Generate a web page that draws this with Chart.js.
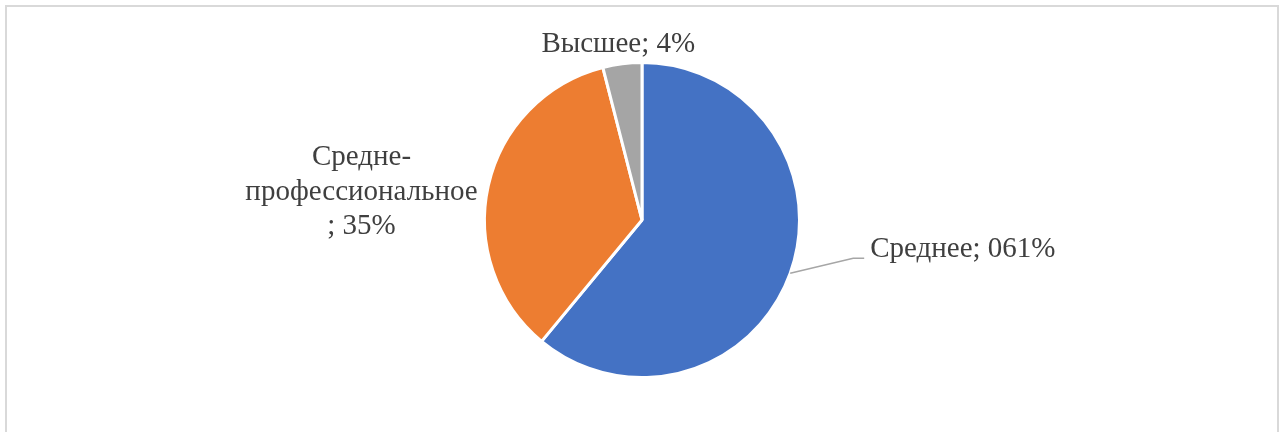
<!DOCTYPE html>
<html>
<head>
<meta charset="utf-8">
<script src="https://cdn.jsdelivr.net/npm/chart.js@4/dist/chart.umd.min.js"></script>
<style>
  html, body { margin: 0; padding: 0; background: #fff; overflow: hidden; }
  #wrap { position: relative; width: 1286px; height: 432px; }
  #frame { position: absolute; left: 5px; top: 5px; width: 1270px; height: 440px;
           border: 2px solid #d9d9d9; border-bottom: none; }
  canvas { position: absolute; left: 0; top: 0; }
</style>
</head>
<body>
<div id="wrap">
  <div id="frame"></div>
  <canvas id="c" width="1286" height="432"></canvas>
</div>
<script>
const categories = ['Среднее', 'Средне-профессиональное', 'Высшее'];
const values = [61, 35, 4];
const labelLines = [
  ['Среднее; 061%'],
  ['Средне-', 'профессиональное', '; 35%'],
  ['Высшее; 4%']
];
const colors = ['#4472C4', '#ED7D31', '#A5A5A5'];

const labelPlugin = {
  id: 'pieLabels',
  afterDatasetsDraw(chart) {
    const ctx = chart.ctx;
    const meta = chart.getDatasetMeta(0);
    ctx.save();
    ctx.font = '29px "Liberation Serif", "Times New Roman", serif';
    ctx.fillStyle = '#3f3f3f';
    ctx.textBaseline = 'middle';
    meta.data.forEach((arc, i) => {
      const p = arc.getProps(['x', 'y', 'startAngle', 'endAngle', 'outerRadius'], true);
      const mid = (p.startAngle + p.endAngle) / 2;
      const ex = p.x + Math.cos(mid) * p.outerRadius;
      const ey = p.y + Math.sin(mid) * p.outerRadius;
      const lines = labelLines[i];
      if (i === 0) {
        // leader line
        const bx = ex + 63, by = ey - 15;
        ctx.strokeStyle = '#A6A6A6';
        ctx.lineWidth = 1.5;
        ctx.beginPath();
        ctx.moveTo(ex, ey);
        ctx.lineTo(bx, by);
        ctx.lineTo(bx + 11, by);
        ctx.stroke();
        ctx.textAlign = 'left';
        ctx.fillText(lines[0], bx + 17, by - 9);
      } else if (i === 1) {
        ctx.textAlign = 'center';
        const cx = p.x - p.outerRadius - 123;
        const cy = p.y - 28;
        lines.forEach((t, k) => ctx.fillText(t, cx, cy + (k - 1) * 34.5));
      } else {
        ctx.textAlign = 'center';
        ctx.fillText(lines[0], ex - 4, ey - 19);
      }
    });
    ctx.restore();
  }
};

new Chart(document.getElementById('c'), {
  type: 'pie',
  data: {
    labels: categories,
    datasets: [{
      data: values,
      backgroundColor: colors,
      borderColor: '#ffffff',
      borderWidth: 3
    }]
  },
  options: {
    responsive: false,
    animation: false,
    layout: { padding: { top: 61, bottom: 53, left: 300, right: 302 } },
    plugins: { legend: { display: false }, tooltip: { enabled: false } }
  },
  plugins: [labelPlugin]
});
</script>
</body>
</html>
